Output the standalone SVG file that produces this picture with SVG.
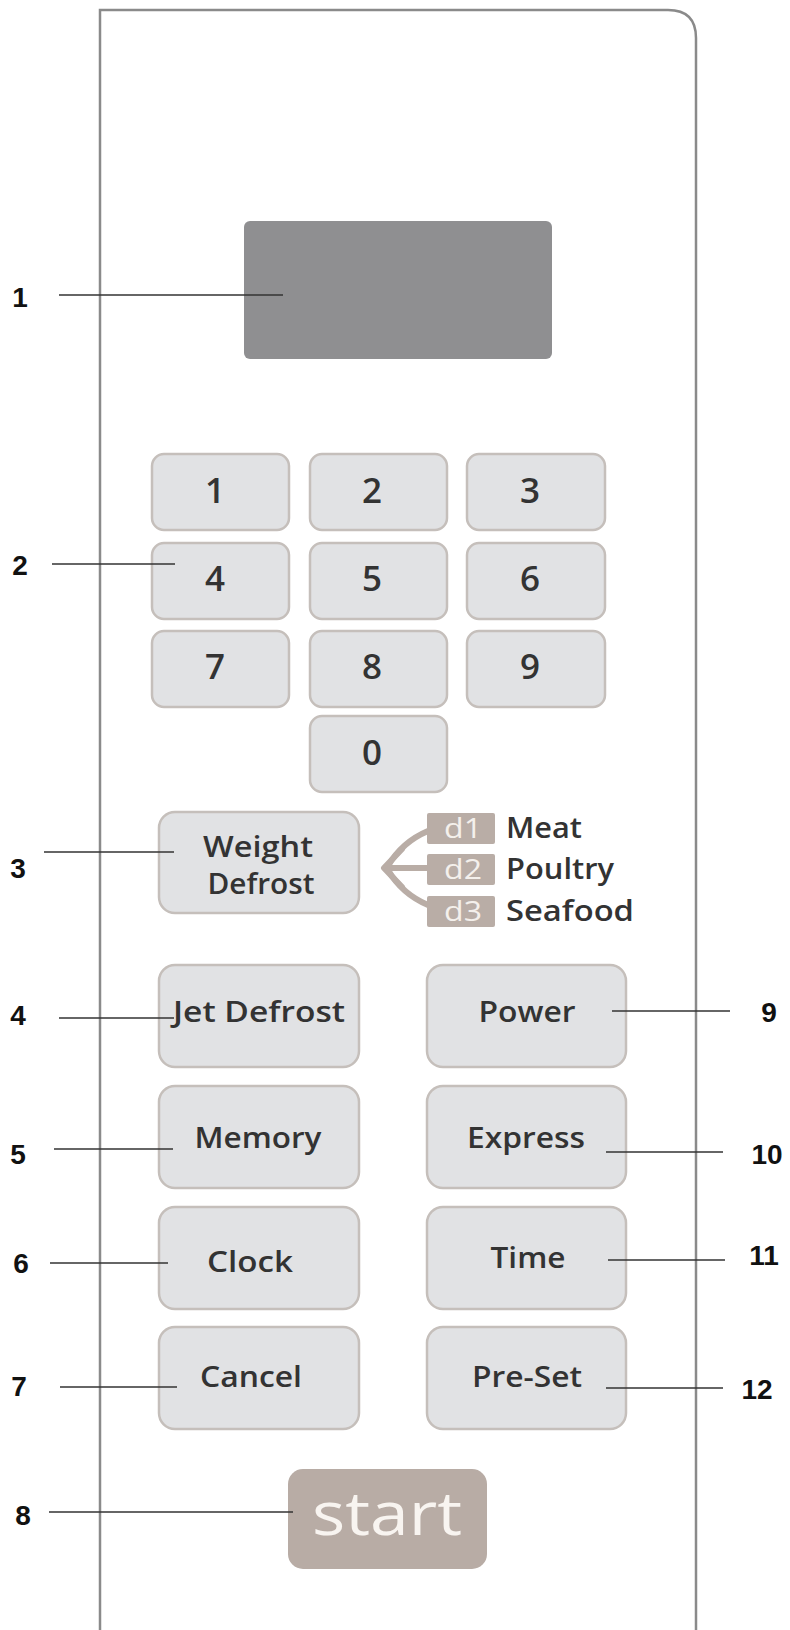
<svg xmlns="http://www.w3.org/2000/svg" width="790" height="1630" viewBox="0 0 790 1630">
<style>
.key{fill:#e1e2e4;stroke:#c5bfbb;stroke-width:2.5}
.kt{font-family:"Open Sans","Noto Sans",sans-serif;font-weight:600;fill:#333;text-anchor:middle}
.dig{font-size:35px}
.bt{font-size:29px}
.lbl{font-family:"Liberation Sans",Arial,sans-serif;font-weight:bold;font-size:28px;fill:#111;text-anchor:middle}
.ld{stroke:#333;stroke-width:1.5;fill:none}
.dbox{fill:#b9ada6}
.dt{font-family:"Open Sans","Noto Sans",sans-serif;font-size:27px;fill:#f4f0ec;text-anchor:middle}
.mt{font-family:"Open Sans","Noto Sans",sans-serif;font-weight:600;font-size:29px;fill:#333}
.arr{stroke:#b9ada6;stroke-width:6;fill:none;stroke-linecap:round;stroke-linejoin:round}
</style>
<rect width="790" height="1630" fill="#fff"/>
<g id="panel">
<path d="M100 1632 V10 H668 Q696 10 696 38 V1632" fill="#fff" stroke="#8a8a8a" stroke-width="2.5"/>
</g>
<g id="display"><rect x="244" y="221" width="308" height="138" rx="6" fill="#8f8f91"/></g>
<g id="keypad">
<g id="k1"><rect class="key" x="152" y="454" width="137" height="76" rx="12"/><text class="kt dig" x="215" y="503">1</text></g>
<g id="k2"><rect class="key" x="310" y="454" width="137" height="76" rx="12"/><text class="kt dig" x="372" y="503">2</text></g>
<g id="k3"><rect class="key" x="467" y="454" width="138" height="76" rx="12"/><text class="kt dig" x="530" y="503">3</text></g>
<g id="k4"><rect class="key" x="152" y="543" width="137" height="76" rx="12"/><text class="kt dig" x="215" y="591">4</text></g>
<g id="k5"><rect class="key" x="310" y="543" width="137" height="76" rx="12"/><text class="kt dig" x="372" y="591">5</text></g>
<g id="k6"><rect class="key" x="467" y="543" width="138" height="76" rx="12"/><text class="kt dig" x="530" y="591">6</text></g>
<g id="k7"><rect class="key" x="152" y="631" width="137" height="76" rx="12"/><text class="kt dig" x="215" y="679">7</text></g>
<g id="k8"><rect class="key" x="310" y="631" width="137" height="76" rx="12"/><text class="kt dig" x="372" y="679">8</text></g>
<g id="k9"><rect class="key" x="467" y="631" width="138" height="76" rx="12"/><text class="kt dig" x="530" y="679">9</text></g>
<g id="k0"><rect class="key" x="310" y="716" width="137" height="76" rx="12"/><text class="kt dig" x="372" y="765">0</text></g>
</g>
<g id="weight-defrost">
<rect class="key" x="159" y="812" width="200" height="101" rx="16"/>
<text class="kt bt" x="258" y="857" textLength="110" lengthAdjust="spacingAndGlyphs">Weight</text>
<text class="kt bt" x="261" y="894" textLength="107" lengthAdjust="spacingAndGlyphs">Defrost</text>
</g>
<g id="defrost-options">
<path class="arr" d="M402 849 L384 868 L402 887"/>
<path class="arr" d="M386 868 H428"/>
<path class="arr" d="M388 866 Q402 842 428 831"/>
<path class="arr" d="M388 870 Q402 894 428 905"/>
<rect class="dbox" x="427" y="813" width="68" height="31" rx="2"/>
<text class="dt" x="463" y="838" textLength="38" lengthAdjust="spacingAndGlyphs">d1</text>
<rect class="dbox" x="427" y="854" width="68" height="31" rx="2"/>
<text class="dt" x="463" y="879" textLength="38" lengthAdjust="spacingAndGlyphs">d2</text>
<rect class="dbox" x="427" y="896" width="68" height="31" rx="2"/>
<text class="dt" x="463" y="921" textLength="38" lengthAdjust="spacingAndGlyphs">d3</text>
<text class="mt" x="506" y="838" textLength="76" lengthAdjust="spacingAndGlyphs">Meat</text>
<text class="mt" x="506" y="879" textLength="108" lengthAdjust="spacingAndGlyphs">Poultry</text>
<text class="mt" x="506" y="921" textLength="128" lengthAdjust="spacingAndGlyphs">Seafood</text>
</g>
<g id="jet-defrost"><rect class="key" x="159" y="965" width="200" height="102" rx="16"/><text class="kt bt" x="259" y="1022" textLength="172" lengthAdjust="spacingAndGlyphs">Jet Defrost</text></g>
<g id="memory"><rect class="key" x="159" y="1086" width="200" height="102" rx="16"/><text class="kt bt" x="258" y="1148" textLength="127" lengthAdjust="spacingAndGlyphs">Memory</text></g>
<g id="clock"><rect class="key" x="159" y="1207" width="200" height="102" rx="16"/><text class="kt bt" x="250" y="1272" textLength="86" lengthAdjust="spacingAndGlyphs">Clock</text></g>
<g id="cancel"><rect class="key" x="159" y="1327" width="200" height="102" rx="16"/><text class="kt bt" x="251" y="1387" textLength="102" lengthAdjust="spacingAndGlyphs">Cancel</text></g>
<g id="power"><rect class="key" x="427" y="965" width="199" height="102" rx="16"/><text class="kt bt" x="527" y="1022" textLength="97" lengthAdjust="spacingAndGlyphs">Power</text></g>
<g id="express"><rect class="key" x="427" y="1086" width="199" height="102" rx="16"/><text class="kt bt" x="526" y="1148" textLength="118" lengthAdjust="spacingAndGlyphs">Express</text></g>
<g id="time"><rect class="key" x="427" y="1207" width="199" height="102" rx="16"/><text class="kt bt" x="528" y="1268" textLength="75" lengthAdjust="spacingAndGlyphs">Time</text></g>
<g id="preset"><rect class="key" x="427" y="1327" width="199" height="102" rx="16"/><text class="kt bt" x="527" y="1387" textLength="110" lengthAdjust="spacingAndGlyphs">Pre-Set</text></g>
<g id="start"><rect x="288" y="1469" width="199" height="100" rx="15" fill="#b8aca5"/><text x="387" y="1535" font-family="'Open Sans','Noto Sans',sans-serif" font-size="60" fill="#f8f4f0" text-anchor="middle" textLength="150" lengthAdjust="spacingAndGlyphs">start</text></g>
<g id="connectors">
<line class="ld" x1="59" y1="295" x2="283" y2="295"/>
<line class="ld" x1="52" y1="564" x2="175" y2="564"/>
<line class="ld" x1="44" y1="852" x2="174" y2="852"/>
<line class="ld" x1="59" y1="1018" x2="174" y2="1018"/>
<line class="ld" x1="54" y1="1149" x2="173" y2="1149"/>
<line class="ld" x1="50" y1="1263" x2="168" y2="1263"/>
<line class="ld" x1="60" y1="1387" x2="177" y2="1387"/>
<line class="ld" x1="49" y1="1512" x2="293" y2="1512"/>
<line class="ld" x1="612" y1="1011" x2="730" y2="1011"/>
<line class="ld" x1="606" y1="1152" x2="723" y2="1152"/>
<line class="ld" x1="608" y1="1260" x2="725" y2="1260"/>
<line class="ld" x1="606" y1="1388" x2="723" y2="1388"/>
</g>
<g id="labels">
<text class="lbl" x="20" y="307">1</text>
<text class="lbl" x="20" y="575">2</text>
<text class="lbl" x="18" y="878">3</text>
<text class="lbl" x="18" y="1025">4</text>
<text class="lbl" x="18" y="1164">5</text>
<text class="lbl" x="21" y="1273">6</text>
<text class="lbl" x="19" y="1396">7</text>
<text class="lbl" x="23" y="1525">8</text>
<text class="lbl" x="769" y="1022">9</text>
<text class="lbl" x="767" y="1164">10</text>
<text class="lbl" x="764" y="1265">11</text>
<text class="lbl" x="757" y="1399">12</text>
</g>
</svg>
